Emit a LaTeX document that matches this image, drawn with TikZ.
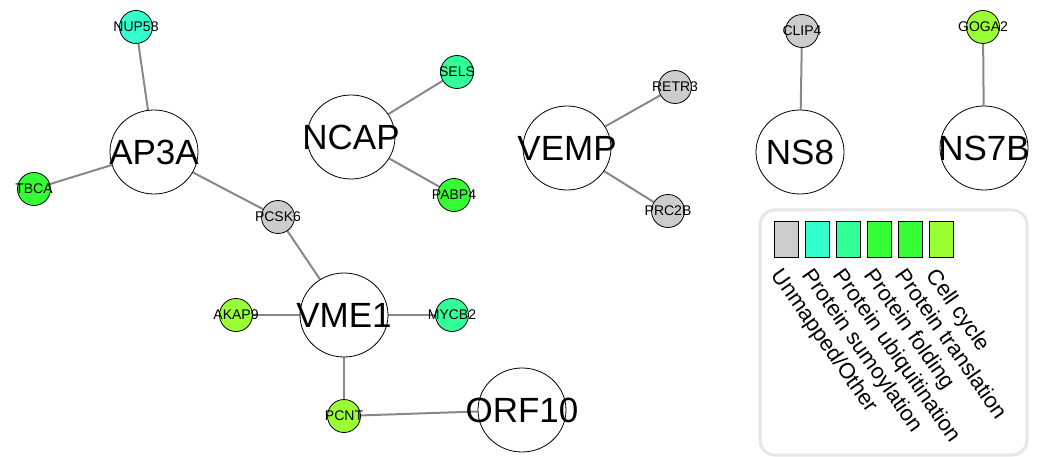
\documentclass[tikz,border=0pt]{standalone}
\usepackage{fontspec}
\setmainfont{Liberation Sans}
\usetikzlibrary{shapes.geometric}
\pgfdeclarelayer{bg}
\pgfsetlayers{bg,main}
\definecolor{cgray}{HTML}{CCCCCC}
\definecolor{csumo}{HTML}{33FFCC}
\definecolor{cubiq}{HTML}{33FF99}
\definecolor{cfold}{HTML}{33FF33}
\definecolor{ctrans}{HTML}{33FF33}
\definecolor{ccell}{HTML}{99FF33}
\definecolor{edgegray}{HTML}{888888}
\definecolor{boxgray}{HTML}{E6E6E6}
\tikzset{
  big/.style={ellipse, draw=black, line width=0.8pt, fill=white, minimum width=88pt, minimum height=84pt, inner sep=0pt},
  bigtext/.style={font=\fontsize{35}{40}\selectfont},
  small/.style={circle, draw=black, line width=0.8pt, minimum size=33pt, inner sep=0pt},
  smalltext/.style={font=\fontsize{14}{16}\selectfont},
  conn/.style={draw=edgegray, line width=2pt},
  swatch/.style={draw=black, line width=1.2pt, minimum width=24pt, minimum height=36pt, inner sep=0pt, anchor=north west},
  legtext/.style={font=\fontsize{22}{24}\selectfont, rotate=-55, anchor=north west, inner sep=0pt}
}
\begin{document}
\begin{tikzpicture}[x=1pt,y=-1pt]
\useasboundingbox (0,0) rectangle (1039,457);
% legend box
\draw[boxgray, line width=3pt, rounded corners=15pt] (760,210) rectangle (1027,455);
% nodes
\node[big, label={[bigtext]center:AP3A}] (ap3a) at (154,152) {};
\node[big, label={[bigtext]center:NCAP}] (ncap) at (351,137) {};
\node[big, label={[bigtext]center:VEMP}] (vemp) at (567,148) {};
\node[big, label={[bigtext]center:NS8}] (ns8) at (800,152) {};
\node[big, label={[bigtext]center:NS7B}] (ns7b) at (984,148) {};
\node[big, label={[bigtext]center:VME1}] (vme1) at (344,315) {};
\node[big, label={[bigtext]center:ORF10}] (orf10) at (522,410) {};
\node[small, fill=csumo, label={[smalltext]center:NUP58}] (nup58) at (136,27) {};
\node[small, fill=cfold, label={[smalltext]center:TBCA}] (tbca) at (34,189) {};
\node[small, fill=cgray, label={[smalltext]center:PCSK6}] (pcsk6) at (278,217) {};
\node[small, fill=cubiq, label={[smalltext]center:SELS}] (sels) at (457,72) {};
\node[small, fill=cfold, label={[smalltext]center:PABP4}] (pabp4) at (454,195) {};
\node[small, fill=cgray, label={[smalltext]center:RETR3}] (retr3) at (675,87) {};
\node[small, fill=cgray, label={[smalltext]center:PRC2B}] (prc2b) at (668,211) {};
\node[small, fill=cgray, label={[smalltext]center:CLIP4}] (clip4) at (802,31) {};
\node[small, fill=ccell, label={[smalltext]center:GOGA2}] (goga2) at (983,27) {};
\node[small, fill=ccell, label={[smalltext]center:AKAP9}] (akap9) at (236,315) {};
\node[small, fill=cubiq, label={[smalltext]center:MYCB2}] (mycb2) at (452,315) {};
\node[small, fill=ccell, label={[smalltext]center:PCNT}] (pcnt) at (344,416) {};
% edges (behind nodes)
\begin{pgfonlayer}{bg}
\path[conn] (nup58) -- (ap3a);
\path[conn] (tbca) -- (ap3a);
\path[conn] (ap3a) -- (pcsk6);
\path[conn] (pcsk6) -- (vme1);
\path[conn] (ncap) -- (sels);
\path[conn] (ncap) -- (pabp4);
\path[conn] (vemp) -- (retr3);
\path[conn] (vemp) -- (prc2b);
\path[conn] (clip4) -- (ns8);
\path[conn] (goga2) -- (ns7b);
\path[conn] (akap9) -- (vme1);
\path[conn] (vme1) -- (mycb2);
\path[conn] (vme1) -- (pcnt);
\path[conn] (pcnt) -- (orf10);
\end{pgfonlayer}
% legend swatches
\node[swatch, fill=cgray] (s1) at (774,221) {};
\node[swatch, fill=csumo] (s2) at (805,221) {};
\node[swatch, fill=cubiq] (s3) at (836,221) {};
\node[swatch, fill=cfold] (s4) at (867,221) {};
\node[swatch, fill=ctrans] (s5) at (898,221) {};
\node[swatch, fill=ccell] (s6) at (929,221) {};
\node[legtext] (l1) at (784,266) {Unmapped/Other};
\node[legtext] (l2) at (815,266) {Protein sumoylation};
\node[legtext] (l3) at (846,266) {Protein ubiquitination};
\node[legtext] (l4) at (877,266) {Protein folding};
\node[legtext] (l5) at (908,266) {Protein translation};
\node[legtext] (l6) at (939,266) {Cell cycle};
\end{tikzpicture}
\end{document}
